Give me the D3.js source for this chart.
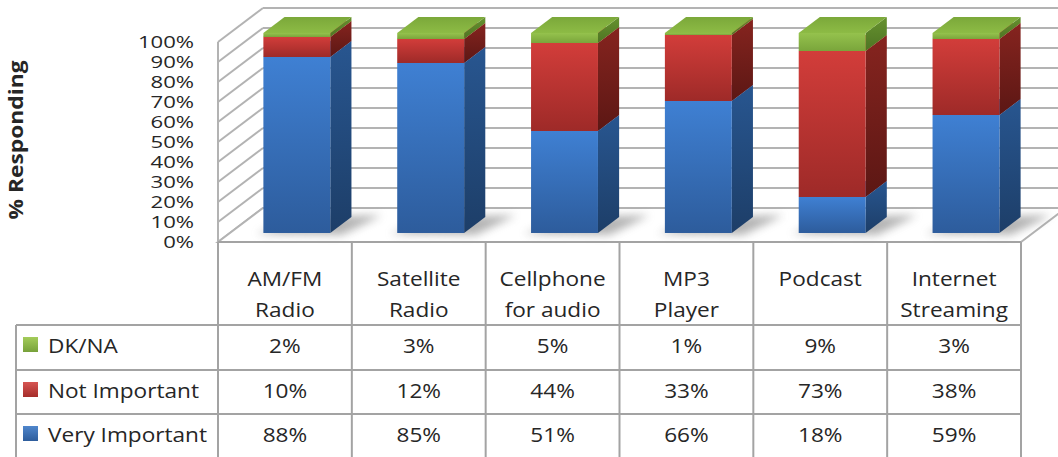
<!DOCTYPE html>
<html><head><meta charset="utf-8">
<script src="https://cdn.jsdelivr.net/npm/d3@7"></script>
<style>
html,body{margin:0;padding:0;background:#fff;}
svg{display:block;}
text{font-family:"Open Sans","Lato",sans-serif;fill:#262626;}
</style></head>
<body>
<svg id="chart" width="1058" height="457"></svg>
<script>
// ---- data ----
const categories = ["AM/FM\nRadio","Satellite\nRadio","Cellphone\nfor audio","MP3\nPlayer","Podcast","Internet\nStreaming"];
const seriesNames = ["Very Important","Not Important","DK/NA"];
const veryImportant = [88,85,51,66,18,59];
const notImportant = [10,12,44,33,73,38];
const dkna = [2,3,5,1,9,3];
const yTickValues = [0,10,20,30,40,50,60,70,80,90,100];
const yTitle = "% Responding";

// ---- layout ----
const W = 1058, H = 457;
const svg = d3.select("#chart");
const defs = svg.append("defs");
const plotL = 218, plotR = 1021;
const DX = 45, DY = -34;           // full floor depth
const barD0 = 0.265, barD1 = 0.735; // bar depth span

const y = d3.scaleLinear().domain([0,100]).range([242,42]);
const col = d3.scaleBand().domain(categories).range([plotL, plotR]);
const xb = d3.scaleBand().domain(categories).range([plotL, plotR]).paddingInner(0.5).paddingOuter(0.25);
const P = (x, v, d) => [x + DX*d, y(v) + DY*d];
const pts = a => a.map(p => p.join(",")).join(" ");

// widen text horizontally (keeps it real text)
function stretch(sel, factor){
  sel.each(function(){
    const len = this.getComputedTextLength();
    d3.select(this).attr("textLength", len*factor).attr("lengthAdjust","spacingAndGlyphs");
  });
}

const gridCol = "#b3b3b3";

// left wall
const wall = svg.append("g");
wall.append("polygon")
  .attr("points", pts([P(plotL,0,0),P(plotL,100,0),P(plotL,100,1),P(plotL,0,1)]))
  .attr("fill","#fff").attr("stroke","none");
yTickValues.forEach(v => {
  const a = P(plotL,v,0), b = P(plotL,v,1);
  wall.append("line").attr("x1",a[0]).attr("y1",a[1]).attr("x2",b[0]).attr("y2",b[1])
    .attr("stroke",gridCol).attr("stroke-width",2);
  wall.append("line").attr("x1",b[0]).attr("y1",b[1]).attr("x2",W+5).attr("y2",b[1])
    .attr("stroke",gridCol).attr("stroke-width",2);
});
wall.append("line").attr("x1",plotL).attr("y1",y(0)).attr("x2",plotL).attr("y2",y(100))
  .attr("stroke",gridCol).attr("stroke-width",2);
// floor
svg.append("polygon")
  .attr("points", pts([P(plotL,0,0),P(plotR,0,0),P(plotR,0,1),P(plotL,0,1)]))
  .attr("fill","#fff").attr("stroke",gridCol).attr("stroke-width",2);

// y axis labels
const yAxis = d3.axisLeft(y).tickValues(yTickValues).tickSize(0).tickPadding(0).tickFormat(d => d + "%");
const ya = svg.append("g").attr("transform","translate(194,0)").call(yAxis);
ya.select(".domain").remove();
ya.selectAll("text").attr("font-size",16).attr("font-family","Liberation Sans, Arial, sans-serif")
  .attr("fill","#262626").attr("dy","0.36em").call(stretch, 1.38);

// y title
svg.append("text").attr("transform","translate(23,140) rotate(-90)")
  .attr("text-anchor","middle").attr("font-size",19).attr("font-weight","bold")
  .text(yTitle).call(stretch, 1.2);

// gradients
function grad(id, c1, c2){
  const g = defs.append("linearGradient").attr("id",id).attr("x1",0).attr("y1",0).attr("x2",0).attr("y2",1);
  g.append("stop").attr("offset","0%").attr("stop-color",c1);
  g.append("stop").attr("offset","100%").attr("stop-color",c2);
}
grad("bF","#3f80d3","#2d5c9c"); grad("bS","#285690","#1d3e68");
grad("rF","#d23d3a","#9e2a28"); grad("rS","#86241f","#5c1714");
grad("gF","#95c24d","#7aa53b"); grad("gS","#66922f","#4e7423");
grad("gT","#7ba83a","#8dbb45");
const fills = [["url(#bF)","url(#bS)","#4a86d4"],["url(#rF)","url(#rS)","#d04a46"],["url(#gF)","url(#gS)","url(#gT)"]];
const keyColors = [["#4f86cc","#2e5d9c"],["#d65552","#a52d2a"],["#a4cc5a","#77a13a"]];

// shadow filter
const f = defs.append("filter").attr("id","blur").attr("x","-50%").attr("y","-50%").attr("width","200%").attr("height","200%");
f.append("feGaussianBlur").attr("stdDeviation",4);

const seriesData = [veryImportant, notImportant, dkna];
const bars = svg.append("g");
categories.forEach((c, i) => {
  const x0 = xb(c), x1 = xb(c) + xb.bandwidth();
  bars.append("polygon")
    .attr("points", pts([P(x0-6,0,barD0-0.02),P(x1+14,0,barD0-0.06),P(x1+28,0,barD1+0.05),P(x0+20,0,barD1)]))
    .attr("fill","#777").attr("opacity",0.55).attr("filter","url(#blur)");
  let base = 0;
  seriesData.forEach((s, k) => {
    const v0 = base, v1 = base + s[i];
    base = v1;
    const fl = fills[k];
    bars.append("polygon")
      .attr("points", pts([P(x1,v0,barD0),P(x1,v0,barD1),P(x1,v1,barD1),P(x1,v1,barD0)]))
      .attr("fill", fl[1]);
    const a = P(x0,v1,barD0), b = P(x1,v0,barD0);
    bars.append("rect").attr("x",a[0]).attr("y",a[1]).attr("width",b[0]-a[0]).attr("height",b[1]-a[1])
      .attr("fill", fl[0]);
    bars.append("polygon")
      .attr("points", pts([P(x0,v1,barD0),P(x1,v1,barD0),P(x1,v1,barD1),P(x0,v1,barD1)]))
      .attr("fill", fl[2]);
  });
});

// ---- data table ----
const tbl = svg.append("g");
const lineCol = "#a3a3a3";
const rowY = [325, 370, 414];
const tLeft = 16;
const hl = (x1,x2,yy) => tbl.append("line").attr("x1",x1).attr("x2",x2).attr("y1",yy).attr("y2",yy).attr("stroke",lineCol).attr("stroke-width",2);
const vl = (xx,y1,y2) => tbl.append("line").attr("x1",xx).attr("x2",xx).attr("y1",y1).attr("y2",y2).attr("stroke",lineCol).attr("stroke-width",2);
hl(plotL, plotR, 242);
rowY.forEach(yy => hl(tLeft, plotR, yy));
categories.forEach(c => vl(col(c), 242, H));
vl(plotR, 242, H);
vl(tLeft, rowY[0], H);

const tFont = 20, tStretch = 1.13;
categories.forEach(c => {
  const cx = col(c) + col.bandwidth()/2;
  c.split("\n").forEach((ln, j) => {
    tbl.append("text").attr("x",cx).attr("y",286 + j*31).attr("text-anchor","middle")
      .attr("font-size",tFont).text(ln).call(stretch, tStretch);
  });
});
const rows = [[2, dkna],[1, notImportant],[0, veryImportant]];
const baselines = [353, 398, 442];
rows.forEach(([k, vals], r) => {
  defs.append("linearGradient").attr("id","key"+k).attr("x1",0).attr("y1",0).attr("x2",0).attr("y2",1)
    .call(g => { g.append("stop").attr("offset","0%").attr("stop-color",keyColors[k][0]);
                 g.append("stop").attr("offset","100%").attr("stop-color",keyColors[k][1]); });
  tbl.append("rect").attr("x",23).attr("y",baselines[r]-16).attr("width",15).attr("height",15)
    .attr("fill","url(#key"+k+")");
  tbl.append("text").attr("x",48).attr("y",baselines[r]).attr("font-size",tFont)
    .text(seriesNames[k]).call(stretch, tStretch);
  categories.forEach((c, i) => {
    tbl.append("text").attr("x",col(c)+col.bandwidth()/2).attr("y",baselines[r]).attr("text-anchor","middle")
      .attr("font-size",tFont).text(vals[i] + "%").call(stretch, tStretch);
  });
});
</script>
</body></html>
